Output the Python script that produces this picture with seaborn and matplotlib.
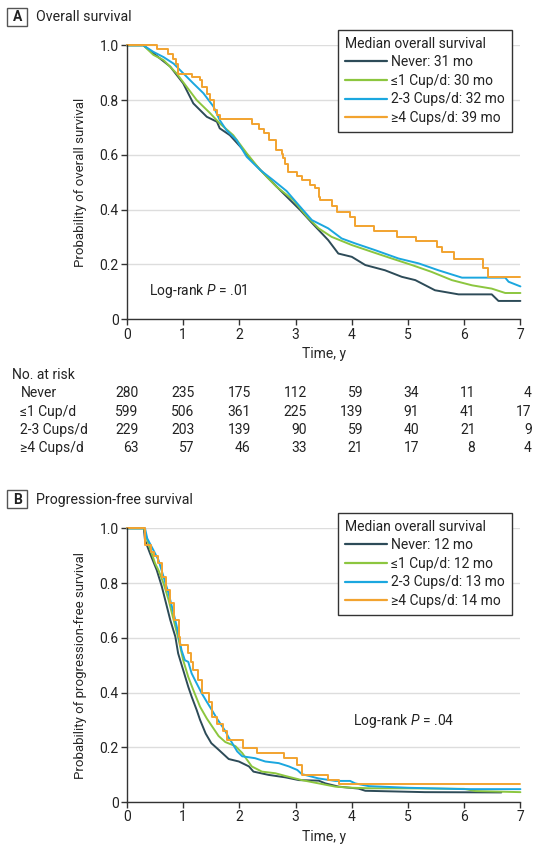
import matplotlib
matplotlib.use("Agg")
import matplotlib.pyplot as plt
import seaborn as sns
from matplotlib.lines import Line2D
from matplotlib.patches import Rectangle
from matplotlib.transforms import blended_transform_factory

# groups and styling
GROUPS = ["Never", "≤1 Cup/d", "2-3 Cups/d", "≥4 Cups/d"]
COLORS = ["#2d4b58", "#8cc63f", "#1ba7df", "#f2a32f"]
OS_MEDIANS = ["31 mo", "30 mo", "32 mo", "39 mo"]
PFS_MEDIANS = ["12 mo", "12 mo", "13 mo", "14 mo"]

# panel A: overall survival
os_never_t = [0, 0.29, 0.47, 0.77, 1.0, 1.18, 1.42, 1.6, 1.65, 1.83, 2.07, 2.25, 2.49, 2.78, 3.08,
              3.29, 3.58, 3.76, 4.0, 4.24, 4.59, 4.89, 5.13, 5.48, 5.9, 6.49, 6.61, 7.0]
os_never_s = [1.0, 1.0, 0.971, 0.922, 0.861, 0.788, 0.739, 0.721, 0.697, 0.672, 0.618, 0.572, 0.52, 0.46,
              0.399, 0.352, 0.289, 0.24, 0.228, 0.198, 0.179, 0.155, 0.143, 0.106, 0.091, 0.091, 0.067, 0.067]
os_le1_t = [0, 0.29, 0.47, 0.65, 0.88, 1.06, 1.24, 1.48, 1.65, 1.89, 2.13, 2.37, 2.66, 2.96, 3.2, 3.41,
            3.64, 4.0, 4.36, 4.71, 5.07, 5.42, 5.78, 6.14, 6.49, 6.73, 7.0]
os_le1_s = [1.0, 1.0, 0.965, 0.946, 0.898, 0.849, 0.80, 0.752, 0.715, 0.672, 0.606, 0.545, 0.484, 0.435,
            0.375, 0.332, 0.301, 0.271, 0.246, 0.222, 0.198, 0.173, 0.143, 0.124, 0.112, 0.096, 0.096]
os_23_t = [0, 0.29, 0.47, 0.65, 0.83, 1.0, 1.18, 1.36, 1.54, 1.65, 1.77, 1.95, 2.13, 2.37, 2.6, 2.84,
           3.08, 3.29, 3.58, 3.82, 4.06, 4.42, 4.83, 5.19, 5.54, 5.96, 6.73, 6.79, 7.0]
os_23_s = [1.0, 1.0, 0.976, 0.957, 0.933, 0.898, 0.861, 0.825, 0.776, 0.727, 0.69, 0.654, 0.593, 0.545,
           0.508, 0.468, 0.411, 0.362, 0.332, 0.295, 0.277, 0.252, 0.222, 0.204, 0.179, 0.152, 0.152, 0.137, 0.12]
os_ge4_t = [0, 0.53, 0.73, 0.82, 0.88, 0.91, 1.15, 1.30, 1.33, 1.42, 1.48, 1.54, 1.60, 1.65, 2.22, 2.34,
            2.43, 2.53, 2.66, 2.75, 2.78, 2.81, 2.87, 3.02, 3.11, 3.26, 3.35, 3.41, 3.44, 3.64, 3.73, 3.97,
            4.06, 4.40, 4.80, 5.15, 5.51, 5.60, 5.81, 6.34, 6.43, 7.0]
os_ge4_s = [1.0, 0.988, 0.97, 0.951, 0.933, 0.895, 0.885, 0.873, 0.848, 0.824, 0.80, 0.763, 0.745, 0.731,
            0.714, 0.696, 0.681, 0.654, 0.617, 0.603, 0.587, 0.568, 0.538, 0.522, 0.508, 0.490, 0.481,
            0.447, 0.435, 0.413, 0.392, 0.374, 0.34, 0.322, 0.301, 0.286, 0.265, 0.244, 0.219, 0.187,
            0.156, 0.156]

# panel B: progression-free survival
pfs_never_t = [0, 0.30, 0.32, 0.41, 0.53, 0.62, 0.68, 0.77, 0.86, 0.91, 1.0, 1.09, 1.15, 1.24, 1.30,
               1.40, 1.50, 1.63, 1.81, 1.99, 2.17, 2.25, 2.52, 2.82, 3.06, 3.41, 3.53, 3.77, 4.12, 4.24,
               5.3, 6.66]
pfs_never_s = [1.0, 1.0, 0.957, 0.908, 0.847, 0.787, 0.738, 0.665, 0.604, 0.543, 0.482, 0.421, 0.385,
               0.336, 0.30, 0.25, 0.215, 0.191, 0.157, 0.148, 0.13, 0.111, 0.099, 0.09, 0.08, 0.078,
               0.068, 0.056, 0.049, 0.041, 0.036, 0.035]
pfs_le1_t = [0, 0.30, 0.36, 0.44, 0.50, 0.56, 0.65, 0.74, 0.83, 0.92, 1.0, 1.09, 1.18, 1.30, 1.42, 1.63,
             1.75, 1.93, 2.05, 2.22, 2.40, 2.64, 2.82, 3.11, 3.41, 3.71, 4.0, 4.36, 5.0, 6.0, 6.2, 7.0]
pfs_le1_s = [1.0, 1.0, 0.957, 0.908, 0.872, 0.847, 0.799, 0.738, 0.665, 0.592, 0.518, 0.457, 0.409,
             0.348, 0.305, 0.241, 0.219, 0.204, 0.179, 0.13, 0.111, 0.105, 0.095, 0.08, 0.068, 0.056,
             0.052, 0.05, 0.05, 0.048, 0.04, 0.036]
pfs_23_t = [0, 0.32, 0.36, 0.47, 0.56, 0.65, 0.74, 0.83, 0.90, 0.97, 1.03, 1.09, 1.15, 1.24, 1.33, 1.42,
            1.51, 1.60, 1.75, 1.81, 1.87, 1.96, 2.05, 2.28, 2.46, 2.70, 2.88, 3.03, 3.11, 3.41, 3.71,
            3.97, 4.06, 4.30, 5.0, 6.0, 7.0]
pfs_23_s = [1.0, 1.0, 0.963, 0.92, 0.884, 0.823, 0.762, 0.689, 0.628, 0.555, 0.518, 0.512, 0.47, 0.433,
            0.397, 0.366, 0.336, 0.305, 0.259, 0.235, 0.216, 0.185, 0.167, 0.16, 0.148, 0.142, 0.13,
            0.117, 0.102, 0.086, 0.077, 0.077, 0.068, 0.058, 0.052, 0.047, 0.047]
pfs_ge4_t = [0, 0.32, 0.42, 0.48, 0.55, 0.62, 0.70, 0.77, 0.84, 0.92, 0.94, 1.09, 1.14, 1.18, 1.27, 1.33,
             1.46, 1.52, 1.60, 1.70, 1.78, 2.07, 2.31, 2.79, 3.03, 3.12, 3.58, 3.78, 7.0]
pfs_ge4_s = [1.0, 0.94, 0.915, 0.90, 0.872, 0.823, 0.774, 0.726, 0.665, 0.604, 0.574, 0.543, 0.51, 0.482,
             0.446, 0.397, 0.366, 0.312, 0.285, 0.26, 0.228, 0.196, 0.178, 0.16, 0.136, 0.099, 0.08,
             0.066, 0.066]

# numbers at risk (panel A)
RISK_TIMES = [0, 1, 2, 3, 4, 5, 6, 7]
risk_never = [280, 235, 175, 112, 59, 34, 11, 4]
risk_le1 = [599, 506, 361, 225, 139, 91, 41, 17]
risk_23 = [229, 203, 139, 90, 59, 40, 21, 9]
risk_ge4 = [63, 57, 46, 33, 21, 17, 8, 4]

W, H = 536, 846
FS = 10
FONT = "Roboto"

sns.set_theme(style="white")
plt.rcParams["font.family"] = [FONT, "DejaVu Sans"]
plt.rcParams["mathtext.fontset"] = "custom"
plt.rcParams["mathtext.rm"] = FONT
plt.rcParams["mathtext.it"] = FONT + ":italic"
plt.rcParams["text.color"] = "#222222"


def px_rect(left, top, right, bottom):
    return [left / W, 1 - bottom / H, (right - left) / W, (bottom - top) / H]


def draw_panel(ax, curves, medians, ylabel, pval, pval_xy):
    for (t, s), color, name in zip(curves, COLORS, GROUPS):
        step = name.startswith("≥4")
        sns.lineplot(x=t, y=s, ax=ax, color=color, linewidth=1.4, estimator=None, sort=False,
                     drawstyle="steps-post" if step else "default", clip_on=False, legend=False)
    ax.set_xlim(0, 7)
    ax.set_ylim(0, 1)
    ax.set_xticks(range(8))
    ax.set_yticks([0, 0.2, 0.4, 0.6, 0.8, 1.0])
    ax.set_yticklabels(["0", "0.2", "0.4", "0.6", "0.8", "1.0"])
    ax.grid(axis="y", color="#dddddd", linewidth=1)
    ax.grid(axis="x", visible=False)
    ax.set_axisbelow(True)
    sns.despine(ax=ax)
    for side in ("left", "bottom"):
        ax.spines[side].set_color("#333333")
        ax.spines[side].set_linewidth(1)
    ax.tick_params(direction="out", length=4, width=1, color="#333333", labelsize=FS, pad=2,
                   labelcolor="#222222", left=True, bottom=True)
    ax.set_xlabel("Time, y", fontsize=FS, labelpad=4)
    ax.set_ylabel(ylabel, fontsize=9.5, labelpad=9)
    ax.text(pval_xy[0], pval_xy[1], "Log-rank $\\it{P}$ = " + pval, fontsize=FS, va="center")

    handles = [Line2D([], [], color=c, linewidth=1.6) for c in COLORS]
    labels = [f"{g}: {m}" for g, m in zip(GROUPS, medians)]
    top = ax.get_position().y1 + 15.5 / H
    leg = ax.legend(handles, labels, title="Median overall survival", loc="upper left",
                    bbox_to_anchor=(338 / W, top), bbox_transform=fig.transFigure,
                    frameon=True, fancybox=False, edgecolor="#333333", framealpha=1,
                    borderaxespad=0, alignment="left", handlelength=3.0, handletextpad=0.35,
                    labelspacing=0.33, borderpad=0.5, fontsize=FS, title_fontsize=FS)
    leg.get_frame().set_linewidth(1.0)


def panel_title(letter, text, y_center):
    fig.patches.append(Rectangle((7.3 / W, 1 - (y_center + 9) / H), 19.7 / W, 18 / H,
                                 transform=fig.transFigure, fill=False, edgecolor="#555555",
                                 linewidth=1))
    fig.text(17.2 / W, 1 - y_center / H, letter, ha="center", va="center", fontsize=FS,
             fontweight="bold")
    fig.text(35.5 / W, 1 - y_center / H, text, ha="left", va="center", fontsize=10.2)


fig = plt.figure(figsize=(W / 100, H / 100), dpi=100)

ax_a = fig.add_axes(px_rect(127, 45.3, 520.4, 319.3))
draw_panel(ax_a, [(os_never_t, os_never_s), (os_le1_t, os_le1_s), (os_23_t, os_23_s), (os_ge4_t, os_ge4_s)],
           OS_MEDIANS, "Probability of overall survival", ".01", (0.39, 0.103))
panel_title("A", "Overall survival", 17)

ax_b = fig.add_axes(px_rect(127, 528.3, 520.4, 802))
draw_panel(ax_b, [(pfs_never_t, pfs_never_s), (pfs_le1_t, pfs_le1_s), (pfs_23_t, pfs_23_s), (pfs_ge4_t, pfs_ge4_s)],
           PFS_MEDIANS, "Probability of progression-free survival", ".04", (4.02, 0.297))
panel_title("B", "Progression-free survival", 499.5)

# number-at-risk table under panel A
trans = blended_transform_factory(ax_a.transData, fig.transFigure)
fig.text(12 / W, 1 - 375 / H, "No. at risk", fontsize=FS, va="center")
rows = [risk_never, risk_le1, risk_23, risk_ge4]
row_y = [393.3, 411.7, 430, 448.3]
for name, counts, y in zip(GROUPS, rows, row_y):
    fig.text(20.5 / W, 1 - y / H, name, fontsize=FS, va="center")
    for t, n in zip(RISK_TIMES, counts):
        ax_a.text(t + 0.2, 1 - y / H, str(n), transform=trans, ha="right", va="center", fontsize=FS)

fig.savefig("out.png", dpi=100, facecolor="white")
